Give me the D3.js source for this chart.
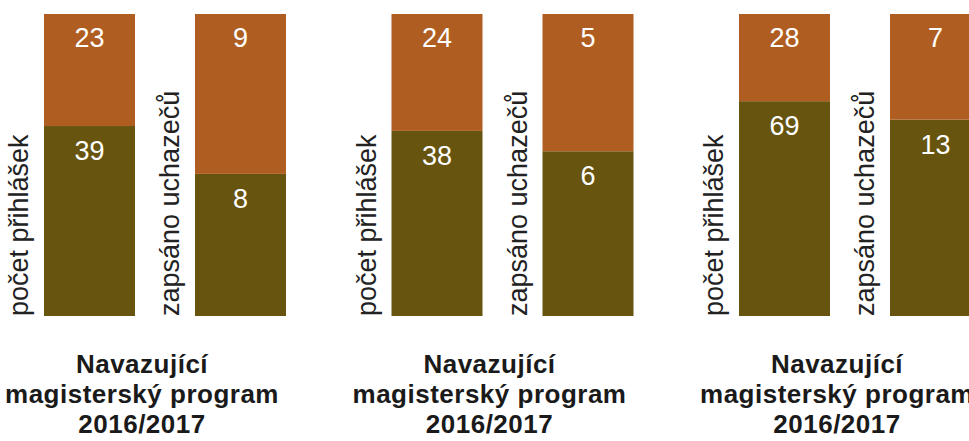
<!DOCTYPE html>
<head>
  <meta charset="UTF-8">
  <script src="https://d3js.org/d3.v7.min.js"></script>
  <style>
    body { margin: 0; background: #fff; }
  </style>
</head>
<body>
<div id="my_dataviz"></div>
<script>

  // data
  var groups = ["g1", "g2", "g3"];
  var groupTitles = [
    ["Navazující", "magisterský program", "2016/2017"],
    ["Navazující", "magisterský program", "2016/2017"],
    ["Navazující", "magisterský program", "2016/2017"]
  ];
  var barNames = ["počet přihlášek", "zapsáno uchazečů"];
  // lower (olive) and upper (orange) segment values per group, per bar
  var lowerValues = [[39, 8], [38, 6], [69, 13]];
  var upperValues = [[23, 9], [24, 5], [28, 7]];

  var colors = { lower: "#67540f", upper: "#b05d21" };

  var width = 969, height = 441;

  var svg = d3.select("#my_dataviz").append("svg")
    .attr("width", width)
    .attr("height", height);

  // group scale
  var x0 = d3.scaleBand()
    .domain(groups)
    .range([44, 44 + 347.5 * groups.length]);

  // bars inside a group
  var x1 = d3.scaleBand()
    .domain(barNames)
    .range([0, 242])
    .paddingInner(60 / 151)
    .paddingOuter(0);

  // 100% stacked
  var y = d3.scaleLinear()
    .domain([0, 1])
    .range([316, 14]);

  var font = "'Liberation Sans', Arial, sans-serif";

  groups.forEach(function (g, gi) {
    var gx = x0(g);
    var grp = svg.append("g").attr("transform", "translate(" + gx + ",0)");

    barNames.forEach(function (name, bi) {
      var lo = lowerValues[gi][bi], up = upperValues[gi][bi];
      var total = lo + up;
      var bx = x1(name);
      var bw = x1.bandwidth();
      var split = lo / total;

      // lower segment
      grp.append("rect")
        .attr("x", bx).attr("width", bw)
        .attr("y", y(split)).attr("height", y(0) - y(split))
        .attr("fill", colors.lower);

      // upper segment
      grp.append("rect")
        .attr("x", bx).attr("width", bw)
        .attr("y", y(1)).attr("height", y(split) - y(1))
        .attr("fill", colors.upper);

      // value labels
      grp.append("text")
        .attr("x", bx + bw / 2)
        .attr("y", y(1) + 33)
        .attr("text-anchor", "middle")
        .style("font-family", font)
        .style("font-size", "27px")
        .style("fill", "#fff")
        .text(up);

      grp.append("text")
        .attr("x", bx + bw / 2)
        .attr("y", y(split) + 34)
        .attr("text-anchor", "middle")
        .style("font-family", font)
        .style("font-size", "27px")
        .style("fill", "#fff")
        .text(lo);

      // rotated bar name
      grp.append("text")
        .attr("transform", "translate(" + (bx - 16) + "," + y(0) + ") rotate(-90)")
        .attr("text-anchor", "start")
        .style("font-family", font)
        .style("font-size", "27px")
        .style("fill", "#222")
        .text(name);
    });

    // group title
    var title = grp.append("text")
      .attr("x", 98)
      .attr("text-anchor", "middle")
      .style("font-family", font)
      .style("font-weight", "bold")
      .style("font-size", "26px")
      .style("letter-spacing", "0.5px")
      .style("fill", "#1a1a1a");

    groupTitles[gi].forEach(function (line, li) {
      title.append("tspan")
        .attr("x", 98)
        .attr("y", 373 + li * 30)
        .text(line);
    });
  });

</script>
</body>
